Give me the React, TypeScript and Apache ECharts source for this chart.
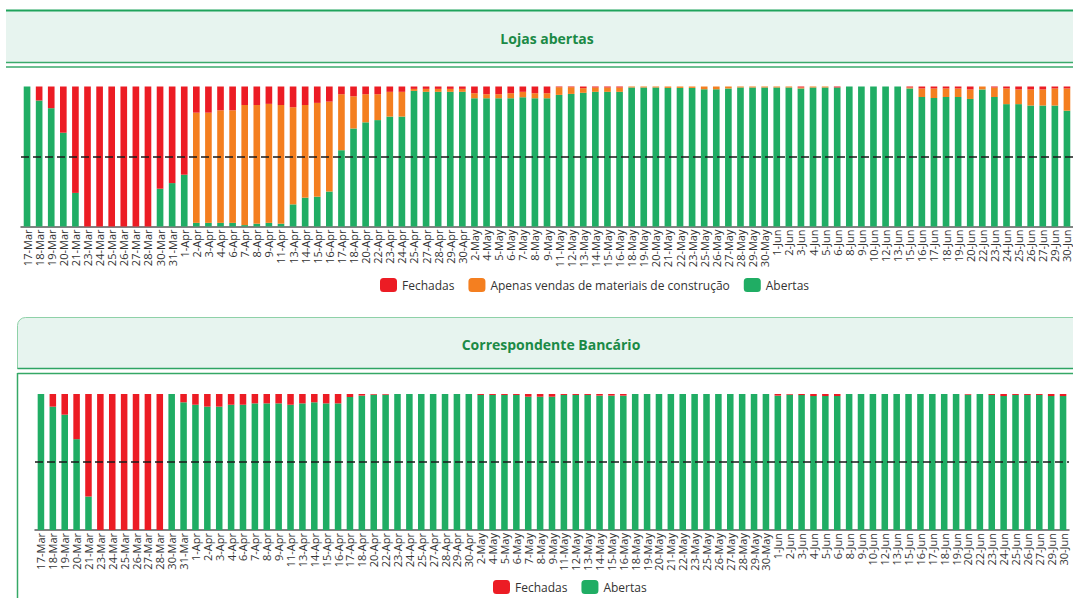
import React, { useEffect, useRef } from "react";
import * as echarts from "echarts";

const dates = ["17-Mar","18-Mar","19-Mar","20-Mar","21-Mar","23-Mar","24-Mar","25-Mar","26-Mar","27-Mar","28-Mar","30-Mar","31-Mar",
  "1-Apr","2-Apr","3-Apr","4-Apr","6-Apr","7-Apr","8-Apr","9-Apr","11-Apr","13-Apr","14-Apr","15-Apr","16-Apr","17-Apr","18-Apr","20-Apr","22-Apr","23-Apr","24-Apr","25-Apr","27-Apr","28-Apr","29-Apr","30-Apr",
  "2-May","4-May","5-May","6-May","7-May","8-May","9-May","11-May","12-May","13-May","14-May","15-May","16-May","18-May","19-May","20-May","21-May","22-May","23-May","25-May","26-May","27-May","28-May","29-May","30-May",
  "1-Jun","2-Jun","3-Jun","4-Jun","5-Jun","6-Jun","8-Jun","9-Jun","10-Jun","12-Jun","13-Jun","15-Jun","16-Jun","17-Jun","18-Jun","19-Jun","20-Jun","22-Jun","23-Jun","24-Jun","25-Jun","26-Jun","27-Jun","29-Jun","30-Jun"];

// Lojas abertas (%)
const lojasAbertas = [100, 90, 84.5, 67, 24, 0, 0, 0, 0, 0, 0, 27, 31,
  37, 2.6, 2.6, 2.6, 2.6, 1, 2, 2.6, 2, 15.8, 20.6, 21.3, 25, 54.5, 70, 74.4, 76, 78.5, 78.5, 96.9, 96.2, 96.2, 96.2, 96.2,
  91.6, 91.6, 91.6, 91.6, 92.3, 91.6, 91.6, 94, 94.7, 95.5, 96.2, 96.2, 96.2, 99.3, 99.3, 99.3, 99, 99, 99, 98, 98, 98.6, 99.3, 99.3, 99.3,
  99.3, 99.3, 98.6, 99.3, 99.3, 99.3, 100, 100, 100, 100, 100, 98.6, 92.5, 91.8, 92.5, 92.5, 91.1, 97.9, 92.5, 87.4, 87.4, 86.4, 86.4, 86.4, 82.7];
const lojasApenas = [0, 0, 0, 0, 0, 0, 0, 0, 0, 0, 0, 0, 0,
  0, 78.7, 78.7, 80.4, 80.4, 85.8, 84.8, 85, 84.8, 69.4, 66.2, 67, 64.2, 40, 23, 20.1, 18.5, 17.7, 17.7, 1.4, 2.1, 2.1, 2.1, 2.1,
  3.6, 2.9, 2.9, 3.6, 3.9, 3.6, 3.6, 5.5, 4.8, 3.3, 3.1, 3.1, 3.1, 0.7, 0.7, 0.7, 1, 1, 1, 2, 2, 1.4, 0.7, 0.7, 0.7,
  0.7, 0.7, 0.7, 0.7, 0.7, 0, 0, 0, 0, 0, 0, 0.7, 6.1, 6.8, 6.1, 6.1, 6.8, 2.1, 6.8, 11.2, 10.5, 11.5, 11.5, 12.2, 15.9];
const lojasFechadas = [0, 10, 15.5, 33, 76, 100, 100, 100, 100, 100, 100, 73, 69,
  63, 18.7, 18.7, 17, 17, 13.2, 13.2, 12.4, 13.2, 14.8, 13.2, 11.7, 10.8, 5.5, 7, 5.5, 5.5, 3.8, 3.8, 1.7, 1.7, 1.7, 1.7, 1.7,
  4.8, 5.5, 5.5, 4.8, 3.8, 4.8, 4.8, 0.5, 0.5, 1.2, 0.7, 0.7, 0.7, 0, 0, 0, 0, 0, 0, 0, 0, 0, 0, 0, 0,
  0, 0, 0.7, 0, 0, 0.7, 0, 0, 0, 0, 0, 0.7, 1.4, 1.4, 1.4, 1.4, 2.1, 0, 0.7, 1.4, 2.1, 2.1, 2.1, 1.4, 1.4];

// Correspondente Bancário (%)
const bancoAbertas = [100, 90.7, 84.8, 66.8, 24.6, 0, 0, 0, 0, 0, 0, 100, 93.9,
  92.1, 90.7, 90.7, 92.1, 92.1, 93.1, 93.1, 93.1, 92.1, 93.1, 93.9, 93.1, 93.1, 97.8, 98.8, 99.5, 99.5, 100, 100, 100, 100, 100, 100, 100,
  99.3, 99.3, 99.3, 99.3, 98, 98, 98, 99.3, 99.3, 99.3, 98.8, 98.8, 98.8, 100, 100, 100, 100, 100, 100, 100, 100, 100, 100, 100, 100,
  98.8, 99.5, 99.2, 98.5, 98.5, 98.5, 100, 100, 100, 100, 100, 100, 100, 100, 100, 100, 99.5, 100, 99.3, 98.5, 99.3, 99.3, 99.3, 98.5, 98.5];
const bancoFechadas = [0, 9.3, 15.2, 33.2, 75.4, 100, 100, 100, 100, 100, 100, 0, 6.1,
  7.9, 9.3, 9.3, 7.9, 7.9, 6.9, 6.9, 6.9, 7.9, 6.9, 6.1, 6.9, 6.9, 2.2, 1.2, 0.5, 0.5, 0, 0, 0, 0, 0, 0, 0,
  0.7, 0.7, 0.7, 0.7, 2, 2, 2, 0.7, 0.7, 0.7, 1.2, 1.2, 1.2, 0, 0, 0, 0, 0, 0, 0, 0, 0, 0, 0, 0,
  1.2, 0.5, 0.8, 1.5, 1.5, 1.5, 0, 0, 0, 0, 0, 0, 0, 0, 0, 0, 0.5, 0, 0.7, 1.5, 0.7, 0.7, 0.7, 1.5, 1.5];

const NAME_F = "Fechadas";
const NAME_A = "Apenas vendas de materiais de construção";
const NAME_O = "Abertas";

const RED = "#ec1c24";
const ORANGE = "#f47f20";
const GREEN = "#20ad64";
const FONT = "'Open Sans', sans-serif";

export default function App() {
  const ref = useRef<HTMLDivElement>(null);
  useEffect(() => {
    document.body.style.margin = "0";
    const chart = echarts.init(ref.current!, null, { renderer: "svg" });
    const axisLabel = { interval: 0, rotate: 90, fontSize: 11, color: "#333333", fontFamily: FONT, margin: 3 };
    const axisLine = { show: true, lineStyle: { color: "#5a5a5a", width: 1.5 } };
    const markLine = {
      silent: true, symbol: "none", label: { show: false },
      lineStyle: { type: [8, 4], color: "#1a1a1a", width: 1.5 },
      data: [{ yAxis: 50 }],
    };
    const bar = (name: string, data: number[], color: string, idx: number, stack: string, ml?: boolean) => ({
      type: "bar", name, data, stack, xAxisIndex: idx, yAxisIndex: idx,
      barWidth: "55%", itemStyle: { color }, ...(ml ? { markLine } : {}),
    });
    const legendText = { fontSize: 12, color: "#333", fontFamily: FONT, lineHeight: 14 };
    chart.setOption({
      animation: false,
      graphic: [
        { type: "rect", shape: { x: 6, y: 10, width: 1067, height: 52 }, style: { fill: "#e7f4ef" } },
        { type: "line", shape: { x1: 6, y1: 10.5, x2: 1073, y2: 10.5 }, style: { stroke: "#1fa35c", lineWidth: 2 } },
        { type: "line", shape: { x1: 6, y1: 62.5, x2: 1073, y2: 62.5 }, style: { stroke: "#3aaa6b", lineWidth: 1.5 } },
        { type: "line", shape: { x1: 6, y1: 67, x2: 1073, y2: 67 }, style: { stroke: "#3aaa6b", lineWidth: 1.5 } },
        { type: "text", x: 547, y: 38, style: { text: "Lojas abertas", fill: "#1b8a46", font: "bold 14px 'Open Sans', sans-serif", textAlign: "center", textVerticalAlign: "middle" } },
        { type: "rect", shape: { x: 17.5, y: 317.5, width: 1060, height: 51, r: [8, 0, 0, 0] }, style: { fill: "#e7f4ef", stroke: "#8fd1a8", lineWidth: 1 } },
        { type: "line", shape: { x1: 17.5, y1: 368.5, x2: 1073, y2: 368.5 }, style: { stroke: "#2ea463", lineWidth: 1.5 } },
        { type: "line", shape: { x1: 17.5, y1: 373.5, x2: 1073, y2: 373.5 }, style: { stroke: "#35a866", lineWidth: 1.5 } },
        { type: "line", shape: { x1: 17.5, y1: 373, x2: 17.5, y2: 598 }, style: { stroke: "#35a866", lineWidth: 1.5 } },
        { type: "text", x: 551, y: 344, style: { text: "Correspondente Bancário", fill: "#1b8a46", font: "bold 14px 'Open Sans', sans-serif", textAlign: "center", textVerticalAlign: "middle" } },
      ],
      legend: [
        {
          data: [NAME_F, NAME_A, NAME_O], left: 380, top: 278, padding: 0, itemWidth: 17, itemHeight: 14, itemGap: 14,
          textStyle: legendText, selectedMode: false,
        },
        {
          data: [NAME_F, NAME_O], left: 493, top: 580, padding: 0, itemWidth: 17, itemHeight: 14, itemGap: 14,
          textStyle: legendText, selectedMode: false,
        },
      ],
      grid: [
        { left: 21, width: 1053, top: 86.5, height: 140 },
        { left: 35, width: 1034, top: 394, height: 136 },
      ],
      xAxis: [
        { type: "category", data: dates, gridIndex: 0, axisLabel, axisLine, axisTick: { show: false } },
        { type: "category", data: dates, gridIndex: 1, axisLabel, axisLine, axisTick: { show: false } },
      ],
      yAxis: [
        { type: "value", gridIndex: 0, min: 0, max: 100, show: false, splitLine: { show: false } },
        { type: "value", gridIndex: 1, min: 0, max: 100, show: false, splitLine: { show: false } },
      ],
      series: [
        bar(NAME_O, lojasAbertas, GREEN, 0, "s1", true),
        bar(NAME_A, lojasApenas, ORANGE, 0, "s1"),
        bar(NAME_F, lojasFechadas, RED, 0, "s1"),
        bar(NAME_O, bancoAbertas, GREEN, 1, "s2", true),
        bar(NAME_F, bancoFechadas, RED, 1, "s2"),
      ],
    });
    return () => chart.dispose();
  }, []);
  return <div ref={ref} style={{ position: "absolute", left: 0, top: 0, width: 1073, height: 598 }} />;
}
